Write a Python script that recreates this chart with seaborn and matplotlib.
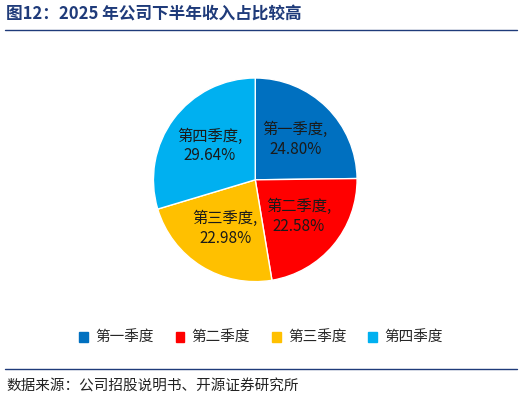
import matplotlib.pyplot as plt
import seaborn as sns
import numpy as np
from matplotlib.patches import Patch

sns.set_theme(style="white")
plt.rcParams['font.family'] = ['Noto Sans CJK SC', 'DejaVu Sans']

quarters = ['第一季度', '第二季度', '第三季度', '第四季度']
shares = [24.80, 22.58, 22.98, 29.64]
colors = ['#0070C0', '#FF0000', '#FFC000', '#00B0F0']

fig = plt.figure(figsize=(5.22, 4.05), dpi=100)
ax = fig.add_axes([0.489 - 0.197, 0.556 - 0.255, 0.394, 0.51])
wedges, texts = ax.pie(shares, colors=colors, startangle=90, counterclock=False,
                       wedgeprops=dict(edgecolor='white', linewidth=1))
ax.set_xlim(-1.01, 1.01)
ax.set_ylim(-1.01, 1.01)
ax.set_aspect('equal')
for w, q, s in zip(wedges, quarters, shares):
    mid = np.deg2rad((w.theta1 + w.theta2) / 2)
    ax.text(0.56 * np.cos(mid), 0.56 * np.sin(mid), f'{q},\n{s:.2f}%',
            ha='center', va='center', fontsize=11, color='#1a1a1a')

fig.text(0.012, 0.965, '图12：2025 年公司下半年收入占比较高', fontsize=12,
         fontweight='bold', color='#1F3B7A', va='center')
fig.add_artist(plt.Line2D([0.01, 0.99], [0.925, 0.925], color='#1F3B7A', lw=1))
fig.add_artist(plt.Line2D([0.01, 0.99], [0.09, 0.09], color='#1F3B7A', lw=1))
fig.text(0.012, 0.045, '数据来源：公司招股说明书、开源证券研究所', fontsize=10.5,
         color='#222222', va='center')

handles = [Patch(color=c, label=q) for c, q in zip(colors, quarters)]
fig.legend(handles=handles, loc='center', bbox_to_anchor=(0.5, 0.165), ncol=4,
           frameon=False, fontsize=10.5, handlelength=0.6, handleheight=0.6,
           columnspacing=1.5, handletextpad=0.5)

fig.savefig('out.png', dpi=100)
